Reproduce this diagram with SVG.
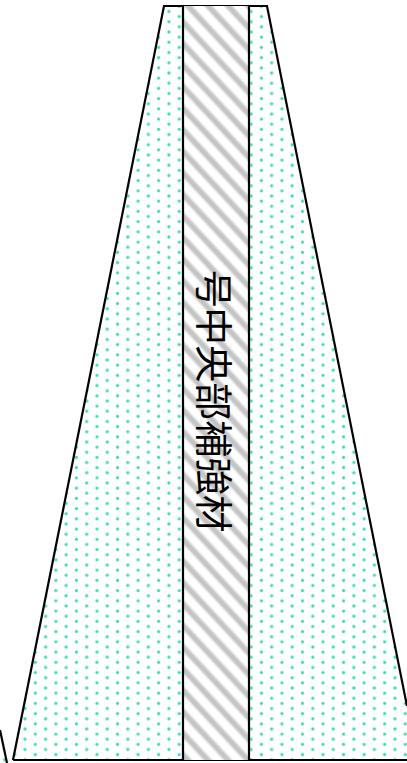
<svg xmlns="http://www.w3.org/2000/svg" width="407" height="763" viewBox="0 0 407 763">
<style>
.o{fill:none;stroke:#000;stroke-width:2.2}
.t{font-family:"Noto Sans CJK JP","Liberation Sans",sans-serif;font-size:37.5px;fill:#000}
.d{fill:url(#dg)}
</style>
<defs>
<radialGradient id="dg"><stop offset="0" stop-color="#30dcb0"/><stop offset="0.45" stop-color="#40deb6"/><stop offset="1" stop-color="#40deb6" stop-opacity="0"/></radialGradient>
<linearGradient id="band" x1="0" y1="0" x2="0" y2="1"><stop offset="0" stop-color="#c6c6c6" stop-opacity="0"/><stop offset="0.35" stop-color="#c4c4c4"/><stop offset="0.65" stop-color="#c4c4c4"/><stop offset="1" stop-color="#c6c6c6" stop-opacity="0"/></linearGradient>
<pattern id="dots" patternUnits="userSpaceOnUse" width="20.55" height="10.25" patternTransform="translate(4.5 1.25)">
<circle class="d" cx="0" cy="0" r="2.2"/><circle class="d" cx="20.55" cy="0" r="2.2"/><circle class="d" cx="0" cy="10.25" r="2.2"/><circle class="d" cx="20.55" cy="10.25" r="2.2"/>
<circle class="d" cx="10.275" cy="5.125" r="2.2"/>
</pattern>
<pattern id="hatch" patternUnits="userSpaceOnUse" width="14.7" height="14.7" patternTransform="translate(187.39 104.2) rotate(47)">
<rect y="1.5" width="14.7" height="9" fill="url(#band)"/>
</pattern>
</defs>
<g id="trapezoid">
<polygon points="164,6 267,6 418,760 13,760" fill="#fff"/>
<polygon points="164,6 267,6 418,760 13,760" fill="url(#dots)"/>
<path class="o" d="M13 760L164 6H267L407 706M13 760H407"/>
</g>
<g id="neighbour"><polygon points="0,730 7,763 0,763" fill="url(#dots)"/><path class="o" d="M0 730L7 763"/></g>
<g id="brace">
<rect x="183" y="6" width="66" height="754" fill="#fff"/>
<rect x="183" y="6" width="66" height="754" fill="url(#hatch)"/>
<path class="o" d="M183 6V760M249 6V760"/>
<text class="t" transform="translate(200 270) rotate(90)">号中央部補強材</text>
</g>
</svg>
